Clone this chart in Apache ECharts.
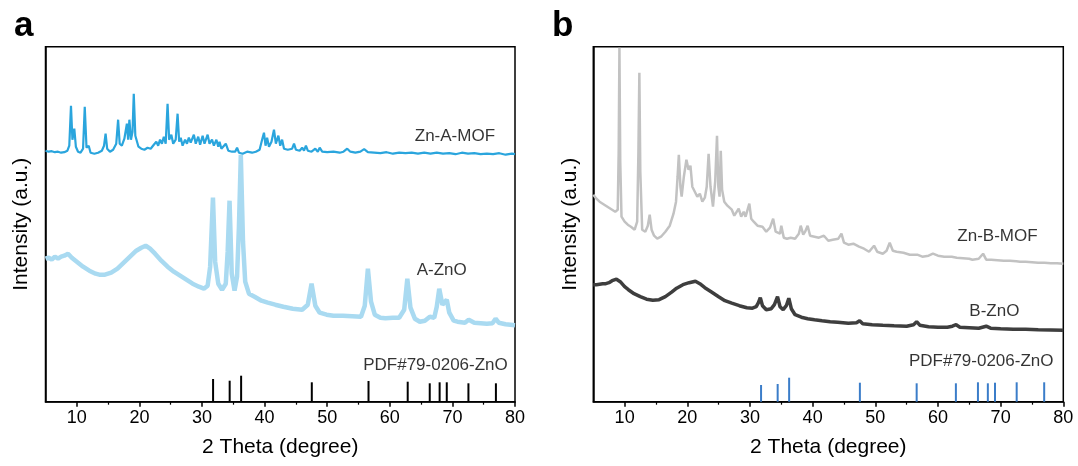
<!DOCTYPE html>
<html lang="en">
<head>
<meta charset="utf-8">
<title>XRD ZnO</title>
<script src="https://cdn.jsdelivr.net/npm/echarts@6/dist/echarts.min.js"></script>
<style>
  html, body { margin: 0; padding: 0; background: #fff; }
  #container { width: 1078px; height: 466px; }
</style>
</head>
<body>
<div id="container"></div>
<script type="text/javascript">
// x ticks
var majorTicks = [10, 20, 30, 40, 50, 60, 70, 80];
var minorTicks = [15, 25, 35, 45, 55, 65, 75];

// PDF#79-0206 ZnO reference lines
var pdfPos = [31.77, 34.42, 36.25, 47.54, 56.60, 62.86, 66.38, 67.96, 69.10, 72.56, 76.95];
var pdfHeightA = [22.7, 21, 26, 19.4, 20.7, 20, 18.4, 19.4, 19.4, 18.4, 18.4];
var pdfHeightB = [16.7, 17.7, 24, 19, 18.4, 18.4, 19.4, 18.4, 19, 19.4, 19.4];

// panel a
var mofA = [
  [5,251],[5.5,250],[6,250.5],[6.5,249.5],[7,250],[7.5,249],[8,249.5],[8.5,251],[8.8,256],[9.07,296],[9.3,262],[9.6,273],[9.85,255],
  [10.2,250],[10.6,249],[11.0,253],[11.27,295],[11.55,254],[11.9,256],[12.2,249],[12.8,248],[13.4,249],[14.0,251],[14.35,256],[14.6,268],
  [14.85,253],[15.3,250],[15.8,252],[16.3,258],[16.6,282],[16.85,258],[17.2,256],[17.6,263],[18.0,278],[18.2,262],[18.4,282],[18.65,262],
  [18.9,270],[19.1,308],[19.35,266],[19.6,265],[19.85,255],[20.3,253],[20.8,252],[21.3,254],[21.8,253],[22.3,257],[22.7,260],[23.0,256],
  [23.3,262],[23.6,258],[23.9,265],[24.2,258],[24.5,298],[24.75,262],[25.1,267],[25.4,258],[25.8,262],[26.1,288],[26.35,260],[26.6,264],
  [26.9,256],[27.3,262],[27.6,258],[27.9,264],[28.2,259],[28.7,267],[29.0,258],[29.4,265],[29.7,257],[30.1,266],[30.4,258],[30.9,267],
  [31.2,258],[31.6,262],[31.9,256],[32.3,262],[32.6,255],[32.8,260],[33.1,253],[33.8,258],[34.2,251],[34.8,250],[35.3,250],[35.6,254],
  [35.9,249],[36.5,248],[37.2,250],[38.0,249],[38.6,250],[39.2,252],[39.6,262],[39.9,269],[40.15,256],[40.4,264],[40.7,255],[41.1,260],
  [41.5,272],[41.8,258],[42.2,266],[42.5,256],[42.8,262],[43.1,253],[43.7,252],[44.4,253],[44.7,258],[45.0,252],[45.6,251],[46.0,254],
  [46.3,251],[46.6,256],[46.9,251],[47.5,250],[48.1,253],[48.5,250],[48.8,254],[49.2,250],[50,249.5],[51,250],[52,249],[52.6,250],
  [53.2,253],[53.7,250],[54.5,249],[55.3,250],[55.9,252.5],[56.5,249.5],[57.5,249],[58.5,248.5],[59.5,249.5],[60.5,248],[61.5,249],
  [62.5,248.5],[63.5,249],[64.5,248],[65.5,249],[66.5,248],[67.5,249],[68.5,248],[69.5,248.5],[70.5,247.5],[71.5,249],[72.5,248],
  [73.5,248.5],[74.5,247.5],[75.5,248],[76.5,247.5],[77.5,248.5],[78.5,247],[79.5,248],[80,247.5]
];
var znoA = [
  [5,143],[5.5,144],[6,142],[6.5,145],[7,143],[7.5,145],[8,146],[8.6,148],[9.2,144],[10,140],[11,135],[12,131],[13,128],[13.6,127],
  [14.5,127],[15.5,129],[16.5,133],[17.5,139],[18.5,145],[19.5,151],[20.3,154],[21,156],[21.7,153],[22.5,148],[23.5,141],[24.5,135],
  [25.5,130],[26.5,126],[27.5,122],[28.5,118],[29.5,115],[30.3,113],[30.9,116],[31.3,135],[31.75,204],[32.1,140],[32.6,118],[33.2,112],
  [33.8,118],[34.1,150],[34.4,201],[34.75,128],[35.2,111],[35.6,125],[35.9,175],[36.2,247],[36.55,160],[36.9,120],[37.5,108],[38.4,105],
  [39.5,101],[40.5,99],[41.7,97],[43,95],[44.5,93],[46,92],[46.9,97],[47.5,118],[48.1,96],[48.8,89],[49.9,87],[51,86],[52.5,86],
  [54,85.5],[55.4,85],[56.0,96],[56.5,133],[57.0,100],[57.6,87],[58.5,84],[59.3,83.5],[60.5,84],[61.5,84],[62.3,92],[62.8,123],
  [63.3,94],[64,83],[64.8,80],[65.6,81],[66.4,85],[67.1,84],[67.5,95],[67.9,113],[68.4,97],[68.7,96],[69.1,102],[69.5,89],[70.2,81],
  [70.8,80],[72,79],[72.6,82],[73.5,79],[74.5,78.5],[75.5,78],[76.4,78.5],[76.9,83],[77.4,79],[78.5,77.5],[80,76.5]
];

// panel b
var mofB = [
  [5,207],[5.5,203],[6,200],[6.5,198],[7,196],[7.5,194],[8,192],[8.5,190],[8.9,192],[9.05,250],[9.17,354],[9.3,240],[9.5,185],[10,180],
  [10.5,177],[11,175],[11.6,172],[12.0,180],[12.2,250],[12.35,329],[12.5,230],[12.8,172],[13.3,170],[13.7,176],[14.0,187],[14.3,172],
  [14.7,166],[15.2,163],[15.8,165],[16.5,170],[17.2,176],[17.8,188],[18.2,200],[18.45,225],[18.65,247],[18.9,215],[19.1,205],[19.45,225],
  [19.86,242],[20.2,232],[20.5,236],[20.8,215],[21.2,210],[21.6,205],[22.0,208],[22.4,200],[22.8,204],[23.1,215],[23.4,248],[23.7,215],
  [24.1,195],[24.45,220],[24.74,266],[24.95,215],[25.15,205],[25.34,251],[25.55,212],[25.9,200],[26.4,196],[27.1,192],[27.5,186],
  [28.2,193],[28.6,185],[29.0,190],[29.3,185],[29.9,198],[30.2,183],[30.6,180],[31.2,176],[32.0,175],[32.6,170],[33.2,174],[33.7,183],
  [34.1,170],[34.8,168],[35.0,176],[35.4,164],[35.9,163],[36.5,164],[37.2,163],[37.8,168],[38.1,176],[38.5,167],[38.8,170],[39.2,176],
  [39.6,166],[40.3,165],[41.0,164],[41.8,166],[42.5,161],[43.2,162],[44.1,163],[44.6,168],[45.0,159],[45.7,157],[46.5,158],[47.4,155],
  [48.2,153],[49.0,150],[49.8,156],[50.3,150],[51.2,148],[51.8,151],[52.3,159],[52.8,151],[53.4,150],[54.5,149],[55.5,147],[56.7,147],
  [57.5,145],[58.5,146],[59.2,148],[60,146],[61,145],[62.2,145],[63,144],[64,143.5],[65,143],[65.5,142],[66.5,143],[67.2,148],[67.7,142],
  [68.5,142],[69.5,141.5],[70.5,141],[71.5,141],[72.5,140.5],[73.1,140],[74,140],[75,139.5],[76,139],[77,139],[78,138.5],[79,138.5],[80,138]
];
var znoB = [
  [5,117],[5.5,117],[6,117.5],[6.5,118],[7,118],[7.5,119],[8,121],[8.7,122.5],[9.3,120],[10,115],[10.6,112],[11.5,108],[12.5,105],
  [13.5,102.5],[14.5,101.5],[15.5,102],[16.5,105],[17.5,109.5],[18.3,113.5],[19.3,117],[20.3,119],[21.3,120.5],[22,118],[22.8,114],
  [23.8,110],[25,105],[26,101],[27.1,98.5],[28.3,96],[29.5,94],[30.4,93.5],[31.0,95],[31.35,99],[31.65,104],[32.0,96],[32.6,92],
  [33.4,93],[33.9,97],[34.4,105],[34.8,95],[35.3,92],[35.8,96],[36.2,103.5],[36.6,93],[37.2,87],[38.2,84.5],[39.2,83],[40.3,82],
  [41.5,81],[42.8,80],[44,79.5],[45.7,78.5],[47.0,79],[47.5,81],[48.0,78],[49.5,77],[51.2,76.5],[53,76],[55,75.5],[56.1,77],[56.6,80],
  [57.1,76.5],[58.5,75],[60,74.5],[61.5,74.5],[62.3,75.5],[62.9,77],[63.5,74.5],[65,74],[66.5,73.5],[67.7,75.5],[68.4,73.5],[70,73],
  [72,72.5],[74,72.5],[76,72],[78,71.8],[80,71.5]
];

var labelsA = [[70.4, 265.7, 'Zn-A-MOF'], [68.3, 131.7, 'A-ZnO'], [67.3, 36.7, 'PDF#79-0206-ZnO']];
var labelsB = [[69.5, 165, 'Zn-B-MOF'], [69.0, 90, 'B-ZnO'], [66.9, 40, 'PDF#79-0206-ZnO']];

var FONT = '"Liberation Sans", Arial, sans-serif';

function sticks(pos, h) {
    return pos.map(function (p, i) { return [p, h[i]]; });
}

function xMain(grid) {
    return {
        gridIndex: grid, type: 'value', min: 5, max: 80, interval: 5,
        axisLine: { lineStyle: { color: '#000', width: 1.5 } },
        axisTick: { customValues: majorTicks, length: 5, lineStyle: { color: '#000', width: 1.5 } },
        axisLabel: { customValues: majorTicks, color: '#000', fontSize: 18, fontFamily: FONT, margin: 7 },
        splitLine: { show: false },
        name: '2 Theta (degree)', nameLocation: 'middle', nameGap: 35,
        nameTextStyle: { color: '#000', fontSize: 21, fontFamily: FONT }
    };
}
function xMinor(grid) {
    return {
        gridIndex: grid, type: 'value', min: 5, max: 80, interval: 5, position: 'bottom',
        axisLine: { show: false },
        axisTick: { customValues: minorTicks, length: 3, lineStyle: { color: '#000', width: 1.2 } },
        axisLabel: { show: false },
        splitLine: { show: false }
    };
}
function yAx(grid, gap) {
    return {
        gridIndex: grid, type: 'value', min: 0, max: 355,
        axisLine: { show: true, lineStyle: { color: '#000', width: 1.5 } },
        axisTick: { show: false }, axisLabel: { show: false }, splitLine: { show: false },
        name: 'Intensity (a.u.)', nameLocation: 'middle', nameGap: gap,
        nameTextStyle: { color: '#000', fontSize: 21, fontFamily: FONT }
    };
}
function line(xi, yi, data, color, w) {
    return {
        type: 'line', xAxisIndex: xi, yAxisIndex: yi, data: data, showSymbol: false, silent: true,
        lineStyle: { color: color, width: w }, animation: false
    };
}
function bars(xi, yi, data, color) {
    return {
        type: 'bar', xAxisIndex: xi, yAxisIndex: yi, data: data, barWidth: 2, silent: true,
        itemStyle: { color: color }, animation: false
    };
}
function texts(xi, yi, data) {
    return {
        type: 'scatter', xAxisIndex: xi, yAxisIndex: yi, data: data, symbolSize: 0, silent: true,
        label: {
            show: true, position: 'inside', color: '#000', fontSize: 17, fontFamily: FONT,
            formatter: function (p) { return p.data[2]; }
        },
        animation: false
    };
}

var myChart = echarts.init(document.getElementById('container'), null, { renderer: 'canvas' });
var option = {
    backgroundColor: '#fff',
    animation: false,
    title: [
        { text: 'a', left: 9, top: 4, textStyle: { fontSize: 35, fontWeight: 'bold', color: '#000', fontFamily: FONT } },
        { text: 'b', left: 547, top: 4, textStyle: { fontSize: 35, fontWeight: 'bold', color: '#000', fontFamily: FONT } }
    ],
    grid: [
        { left: 45.5, right: 563, top: 46.7, bottom: 64.3, show: true, borderColor: '#000', borderWidth: 1.5, containLabel: false },
        { left: 593.3, right: 14.7, top: 46.7, bottom: 64.3, show: true, borderColor: '#000', borderWidth: 1.5, containLabel: false }
    ],
    xAxis: [xMain(0), xMinor(0), xMain(1), xMinor(1)],
    yAxis: [yAx(0, 14), yAx(1, 13)],
    series: [
        line(0, 0, znoA, '#a9daf1', 4.5),
        line(0, 0, mofA, '#2aa5dd', 2.2),
        bars(0, 0, sticks(pdfPos, pdfHeightA), '#000'),
        texts(0, 0, labelsA),
        line(2, 1, mofB, '#c2c2c2', 2.5),
        line(2, 1, znoB, '#3e3e3e', 3.5),
        bars(2, 1, sticks(pdfPos, pdfHeightB), '#3b7dc9'),
        texts(2, 1, labelsB)
    ]
};
myChart.setOption(option);
</script>
</body>
</html>
